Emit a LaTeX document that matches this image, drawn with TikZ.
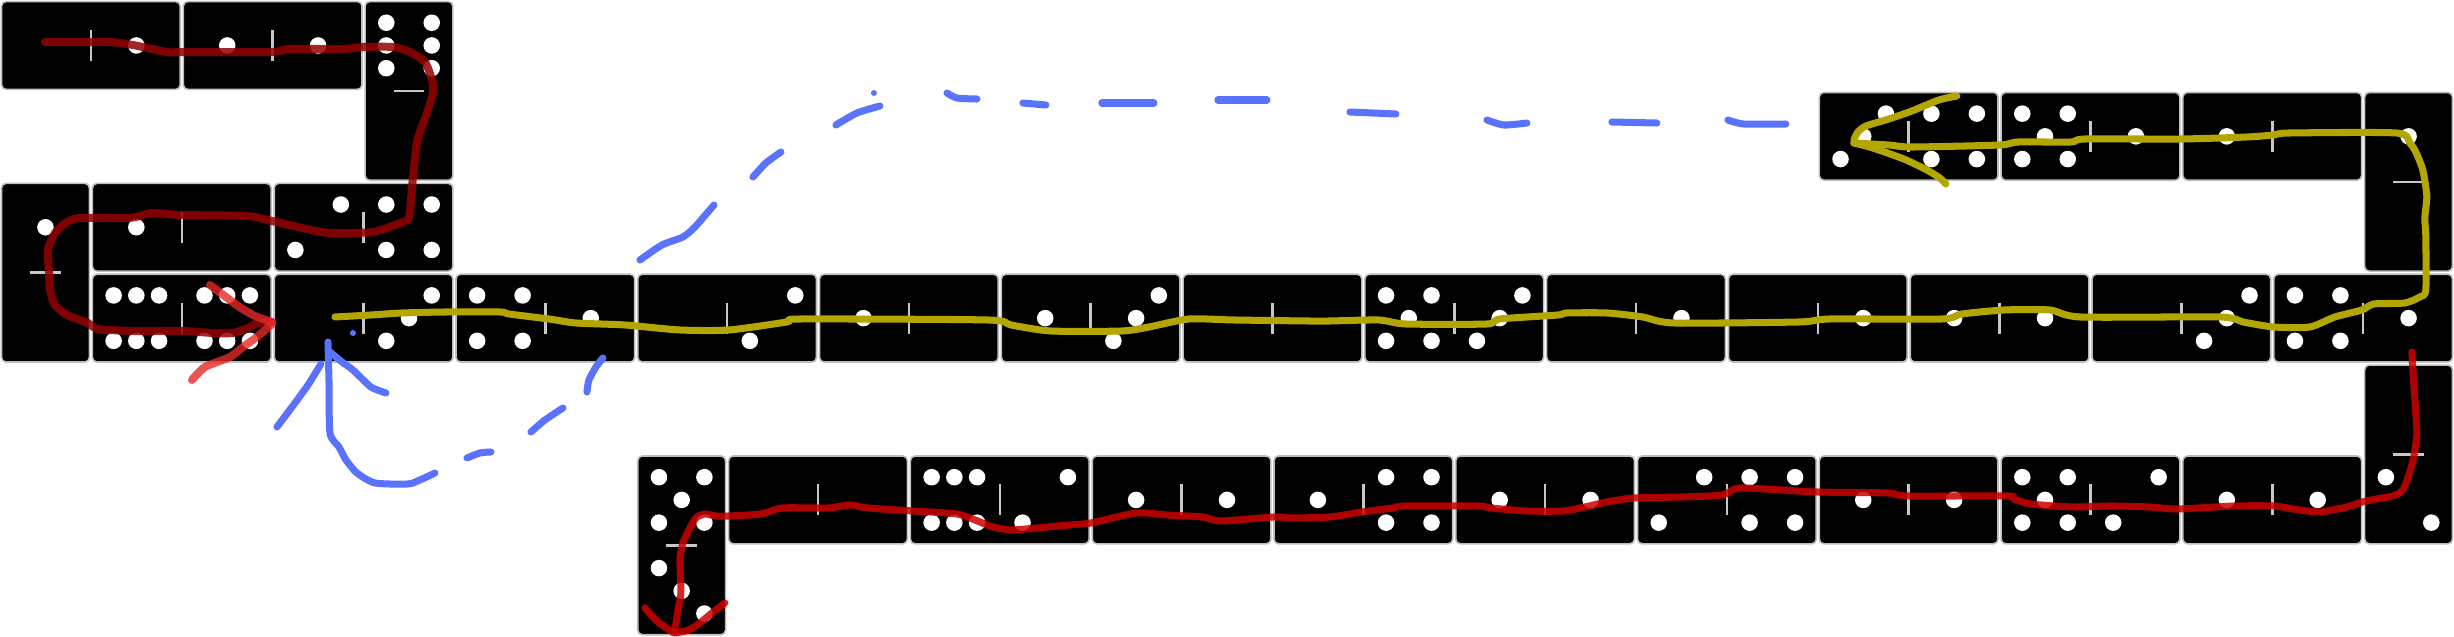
\documentclass[tikz,border=0pt]{standalone}
\definecolor{pathdark}{RGB}{150,0,0}
\definecolor{pathhead}{RGB}{230,40,40}
\definecolor{pathred}{RGB}{205,0,0}
\definecolor{pathyellow}{RGB}{180,166,0}
\definecolor{pathblue}{RGB}{90,115,255}
\definecolor{domedge}{RGB}{190,190,190}
\definecolor{divcol}{RGB}{200,200,200}
\tikzset{
  dom/.style={rectangle, fill=black, draw=domedge, line width=0.5pt, rounded corners=0.5mm, inner sep=0pt},
  hdomstyle/.style={dom, minimum width=1.966cm, minimum height=0.966cm},
  vdomstyle/.style={dom, minimum width=0.966cm, minimum height=1.966cm},
  divider/.style={draw=divcol, line width=0.8pt},
  pen/.style={line width=2.2pt, line cap=round, line join=round},
  darkpen/.style={pen, line width=2.5pt, draw=pathdark, opacity=0.85},
  headpen/.style={pen, line width=2.5pt, draw=pathhead, opacity=0.8},
  redpen/.style={pen, draw=pathred, opacity=0.85},
  yellowpen/.style={pen, draw=pathyellow},
  bluepen/.style={pen, draw=pathblue},
  px/.style={x=0.0110023cm, y=-0.0110023cm}
}
\newcommand\pip[2]{\fill[white] (#1,#2) circle[radius=0.091];}
\newcommand\pipsH[3]{%
  \ifcase#1\relax
  \or \pip{#2}{#3}%
  \or \pip{#2+0.25}{#3-0.25}\pip{#2-0.25}{#3+0.25}%
  \or \pip{#2+0.25}{#3-0.25}\pip{#2}{#3}\pip{#2-0.25}{#3+0.25}%
  \or \pip{#2-0.25}{#3-0.25}\pip{#2+0.25}{#3-0.25}\pip{#2-0.25}{#3+0.25}\pip{#2+0.25}{#3+0.25}%
  \or \pip{#2-0.25}{#3-0.25}\pip{#2+0.25}{#3-0.25}\pip{#2}{#3}\pip{#2-0.25}{#3+0.25}\pip{#2+0.25}{#3+0.25}%
  \or \pip{#2-0.25}{#3-0.25}\pip{#2}{#3-0.25}\pip{#2+0.25}{#3-0.25}\pip{#2-0.25}{#3+0.25}\pip{#2}{#3+0.25}\pip{#2+0.25}{#3+0.25}%
  \fi}
\newcommand\pipsV[3]{%
  \ifcase#1\relax
  \or \pip{#2}{#3}%
  \or \pip{#2-0.25}{#3-0.25}\pip{#2+0.25}{#3+0.25}%
  \or \pip{#2-0.25}{#3-0.25}\pip{#2}{#3}\pip{#2+0.25}{#3+0.25}%
  \or \pip{#2-0.25}{#3-0.25}\pip{#2+0.25}{#3-0.25}\pip{#2-0.25}{#3+0.25}\pip{#2+0.25}{#3+0.25}%
  \or \pip{#2-0.25}{#3-0.25}\pip{#2+0.25}{#3-0.25}\pip{#2}{#3}\pip{#2-0.25}{#3+0.25}\pip{#2+0.25}{#3+0.25}%
  \or \pip{#2-0.25}{#3-0.25}\pip{#2-0.25}{#3}\pip{#2-0.25}{#3+0.25}\pip{#2+0.25}{#3-0.25}\pip{#2+0.25}{#3}\pip{#2+0.25}{#3+0.25}%
  \fi}
% name, column, row, left value, right value
\newcommand\hdom[5]{%
  \node[hdomstyle] (#1) at (#2+1,#3+0.5) {};
  \draw[divider] (#2+1,#3+0.33) -- (#2+1,#3+0.67);
  \pipsH{#4}{#2+0.5}{#3+0.5}
  \pipsH{#5}{#2+1.5}{#3+0.5}}
% name, column, row, top value, bottom value
\newcommand\vdom[5]{%
  \node[vdomstyle] (#1) at (#2+0.5,#3+1) {};
  \draw[divider] (#2+0.33,#3+1) -- (#2+0.67,#3+1);
  \pipsV{#4}{#2+0.5}{#3+0.5}
  \pipsV{#5}{#2+0.5}{#3+1.5}}
\begin{document}
\begin{tikzpicture}[x=1cm,y=-1cm]
\useasboundingbox (0,0) rectangle (27,7);
\fill[white] (0,0) rectangle (27,7);
% row 0
\hdom{a1}{0}{0}{0}{1}
\hdom{a2}{2}{0}{1}{1}
\vdom{a3}{4}{0}{6}{0}
% row 2
\vdom{b1}{0}{2}{1}{0}
\hdom{b2}{1}{2}{1}{0}
\hdom{b3}{3}{2}{2}{4}
% row 3
\hdom{c1}{1}{3}{6}{6}
\hdom{c2}{3}{3}{0}{3}
\hdom{c3}{5}{3}{4}{1}
\hdom{c4}{7}{3}{0}{2}
\hdom{c5}{9}{3}{1}{0}
\hdom{c6}{11}{3}{1}{3}
\hdom{c7}{13}{3}{0}{0}
\hdom{c8}{15}{3}{5}{3}
\hdom{c9}{17}{3}{0}{1}
\hdom{c10}{19}{3}{0}{1}
\hdom{c11}{21}{3}{1}{1}
\hdom{c12}{23}{3}{0}{3}
\hdom{c13}{25}{3}{4}{1}
% row 1 (right)
\hdom{e1}{20}{1}{3}{4}
\hdom{e2}{22}{1}{5}{1}
\hdom{e3}{24}{1}{1}{0}
\vdom{e4}{26}{1}{1}{0}
% row 5
\vdom{d0}{7}{5}{5}{3}
\hdom{d1}{8}{5}{0}{0}
\hdom{d2}{10}{5}{6}{2}
\hdom{d3}{12}{5}{1}{1}
\hdom{d4}{14}{5}{1}{4}
\hdom{d5}{16}{5}{1}{1}
\hdom{d6}{18}{5}{2}{4}
\hdom{d7}{20}{5}{1}{1}
\hdom{d8}{22}{5}{5}{2}
\hdom{d9}{24}{5}{1}{1}
\vdom{d10}{26}{4}{0}{2}
\begin{scope}[px]
% dark red path
\draw[darkpen] plot[smooth, tension=0.4] coordinates {(45,42) (90,42) (110,42) (133,45) (167,52) (182,52) (270,52) (290,49) (343,49) (363,47) (393,47) (410,52) (425,62) (432,80) (433,93) (427,113) (420,132) (417,143) (413,177) (411,200) (409,218) (400,223) (373,232) (330,233) (307,229) (272,221) (247,216) (182,215) (152,213) (140,216) (127,218) (80,218) (67,222) (55,233) (48,250) (49,272) (50,290) (55,305) (67,315) (88,323) (98,329) (133,331) (182,331) (213,333) (233,333) (248,328) (258,323) (272,322)};
\draw[headpen] plot[smooth, tension=0.4] coordinates {(210,285) (230,300) (241,308) (255,316) (272,322)};
\draw[headpen] plot[smooth, tension=0.4] coordinates {(272,324) (257,337) (243,347) (230,357) (205,367) (192,380)};
% yellow path
\draw[yellowpen] plot[smooth, tension=0.4] coordinates {(335,317) (371,315) (402,313) (446,312) (500,312) (509,314) (549,319) (576,323) (625,325) (680,330) (729,330) (787,322) (801,319) (988,320) (1011,325) (1051,331) (1122,331) (1149,327) (1189,319) (1234,320) (1308,321) (1330,321) (1379,320) (1406,324) (1487,324) (1500,319) (1558,315) (1567,313) (1607,313) (1643,317) (1674,323) (1799,322) (1830,319) (1942,319) (1962,314) (2004,310) (2050,310) (2081,317) (2220,317) (2243,322) (2274,327) (2310,327) (2335,317) (2362,310) (2374,304) (2405,303) (2420,297) (2426,290) (2426,236) (2425,218) (2427,196) (2423,170) (2416,152) (2410,143) (2397,133) (2289,133) (2274,135) (2247,137) (2181,139) (2085,139) (2071,142) (2018,142) (2000,145) (1912,147) (1889,145) (1854,143)};
\draw[yellowpen] plot[smooth, tension=0.4] coordinates {(1854,140) (1858,132) (1866,126) (1889,119) (1912,111) (1939,100) (1957,96)};
\draw[yellowpen] plot[smooth, tension=0.4] coordinates {(1854,143) (1873,148) (1904,159) (1927,170) (1940,178) (1946,184)};
% lower red path
\draw[redpen] plot[smooth, tension=0.4] coordinates {(2412,352) (2414,384) (2416,413) (2417,435) (2414,457) (2409,475) (2403,490) (2393,496) (2366,501) (2347,507) (2320,512) (2293,509) (2274,506) (2235,506) (2177,509) (2150,507) (2112,506) (2073,507) (2031,504) (2014,499) (2008,496) (1908,496) (1888,493) (1817,492) (1741,488) (1723,495) (1683,497) (1634,498) (1607,502) (1585,507) (1563,511) (1527,511) (1491,508) (1478,506) (1406,506) (1393,508) (1362,512) (1330,517) (1290,518) (1274,517) (1221,521) (1203,517) (1167,515) (1136,513) (1091,523) (1069,525) (1037,528) (1011,530) (993,527) (975,520) (957,514) (913,511) (868,508) (850,505) (828,508) (783,508) (761,514) (729,516) (716,516) (705,514) (696,518) (689,530) (683,543) (680,560) (681,593) (678,610) (675,630)};
\draw[redpen] plot[smooth, tension=0.4] coordinates {(645,608) (658,622) (674,633)};
\draw[redpen] plot[smooth, tension=0.4] coordinates {(725,603) (712,613) (700,623) (689,630) (676,633)};
% blue arrow and dashed curve
\draw[bluepen] plot[smooth, tension=0.4] coordinates {(328,342) (329,380) (330,433) (339,447) (346,460) (357,473) (375,483) (408,484) (420,480) (435,473)};
\draw[bluepen] plot[smooth, tension=0.4] coordinates {(321,364) (308,385) (295,403) (277,427)};
\draw[bluepen] plot[smooth, tension=0.4] coordinates {(330,352) (342,362) (353,370) (371,387) (386,393)};
\fill[pathblue] (353,333) circle[radius=3];
\draw[bluepen] plot[smooth, tension=0.4] coordinates {(467,458) (480,453) (491,452)};
\draw[bluepen] plot[smooth, tension=0.4] coordinates {(531,432) (545,420) (563,408)};
\draw[bluepen] plot[smooth, tension=0.4] coordinates {(587,392) (589,380) (596,367) (603,358)};
\draw[bluepen] plot[smooth, tension=0.4] coordinates {(640,260) (662,245) (683,237) (695,227) (714,205)};
\draw[bluepen] plot[smooth, tension=0.4] coordinates {(753,177) (766,163) (781,152)};
\draw[bluepen] plot[smooth, tension=0.4] coordinates {(836,125) (857,113) (880,106)};
\fill[pathblue] (874,93) circle[radius=3];
\draw[bluepen] plot[smooth, tension=0.4] coordinates {(947,93) (957,98) (977,99)};
\draw[bluepen] (1023,103) -- (1046,105);
\draw[bluepen] (1102,103) -- (1154,103);
\draw[bluepen] (1218,100) -- (1267,100);
\draw[bluepen] (1350,112) -- (1396,114);
\draw[bluepen] plot[smooth, tension=0.4] coordinates {(1487,120) (1504,125) (1527,123)};
\draw[bluepen] (1612,122) -- (1657,123);
\draw[bluepen] plot[smooth, tension=0.4] coordinates {(1728,120) (1744,124) (1786,124)};
\end{scope}
\end{tikzpicture}
\end{document}
